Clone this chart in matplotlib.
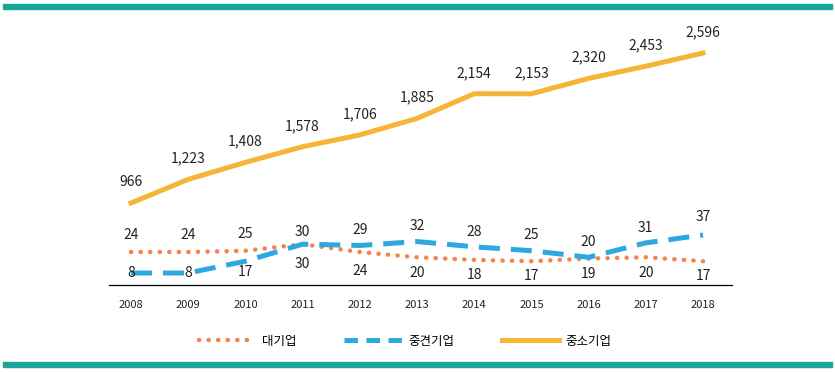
import matplotlib

matplotlib.use("Agg")
import matplotlib.pyplot as plt
from matplotlib.lines import Line2D
from matplotlib.patches import Rectangle

plt.rcParams["font.family"] = ["Noto Sans CJK KR", "DejaVu Sans"]

years = [2008, 2009, 2010, 2011, 2012, 2013, 2014, 2015, 2016, 2017, 2018]
large = [24, 24, 25, 30, 24, 20, 18, 17, 19, 20, 17]
midsize = [8, 8, 17, 30, 29, 32, 28, 25, 20, 31, 37]
small_medium = [966, 1223, 1408, 1578, 1706, 1885, 2154, 2153, 2320, 2453, 2596]
series_names = ["대기업", "중견기업", "중소기업"]

# label offsets in points (vertical) per point
large_offsets = [12, 12, 12, -14, -14, -11, -11, -11, -11, -11, -11]
mid_offsets = [0, 0, -8, 9, 11, 11, 11, 11, 11, 11, 13]

ORANGE = "#F4844C"
BLUE = "#2EA8E0"
YELLOW = "#F7B538"
TEAL = "#17A697"

fig = plt.figure(figsize=(8.35, 3.72), dpi=100)
ax = fig.add_axes([109 / 835, 87 / 372, 623 / 835, 265 / 372])
ax2 = ax.twinx()

ax.set_xlim(2008 - 22 / 57.2, 2018 + 29 / 57.2)
ax.set_ylim(-1.16, 201.1)
ax2.set_ylim(75, 2955)

dot_style = dict(color=ORANGE, linewidth=3.2, linestyle=(0, (0.05, 2.1)),
                 dash_capstyle="round")
ax.plot(years, large, **dot_style)
ax.plot(years, midsize, color=BLUE, linewidth=3.6, linestyle=(0, (4.2, 2.2)))
ax2.plot(years, small_medium, color=YELLOW, linewidth=3.6, solid_joinstyle="round")

for x, v, off in zip(years, large, large_offsets):
    ax.annotate(f"{v}", (x, v), xytext=(0, off), textcoords="offset points",
                ha="center", va="center", fontsize=10, color="#222222")
for x, v, off in zip(years, midsize, mid_offsets):
    ax.annotate(f"{v}", (x, v), xytext=(0, off), textcoords="offset points",
                ha="center", va="center", fontsize=10, color="#222222")
for x, v in zip(years, small_medium):
    ax2.annotate(f"{v:,}", (x, v), xytext=(0, 15), textcoords="offset points",
                 ha="center", va="center", fontsize=10, color="#222222")

for a in (ax, ax2):
    for side in ("top", "right", "left"):
        a.spines[side].set_visible(False)
    a.set_yticks([])
    a.patch.set_visible(False)
ax.spines["bottom"].set_color("#9a9a9a")
ax.spines["bottom"].set_linewidth(1)
ax.set_xticks(years)
ax.set_xticklabels([str(y) for y in years], fontsize=8, color="#222222")
ax.tick_params(axis="x", length=0, pad=11)

# teal rules at top and bottom
for y0 in (4, 362):
    fig.patches.append(Rectangle((3 / 835, 1 - (y0 + 5) / 372), 829 / 835, 5 / 372,
                                 transform=fig.transFigure, color=TEAL, zorder=0))

handles = [
    Line2D([], [], **dot_style),
    Line2D([], [], color=BLUE, linewidth=3.6, linestyle=(0, (2.7, 1.7))),
    Line2D([], [], color=YELLOW, linewidth=3.6),
]
fig.legend(handles=handles, labels=series_names, loc="center",
           bbox_to_anchor=(405 / 835, 1 - 341 / 372),
           ncol=3, frameon=False, fontsize=9, handlelength=4.6, columnspacing=3.8,
           handletextpad=0.5)

fig.savefig("out.png", dpi=100)
